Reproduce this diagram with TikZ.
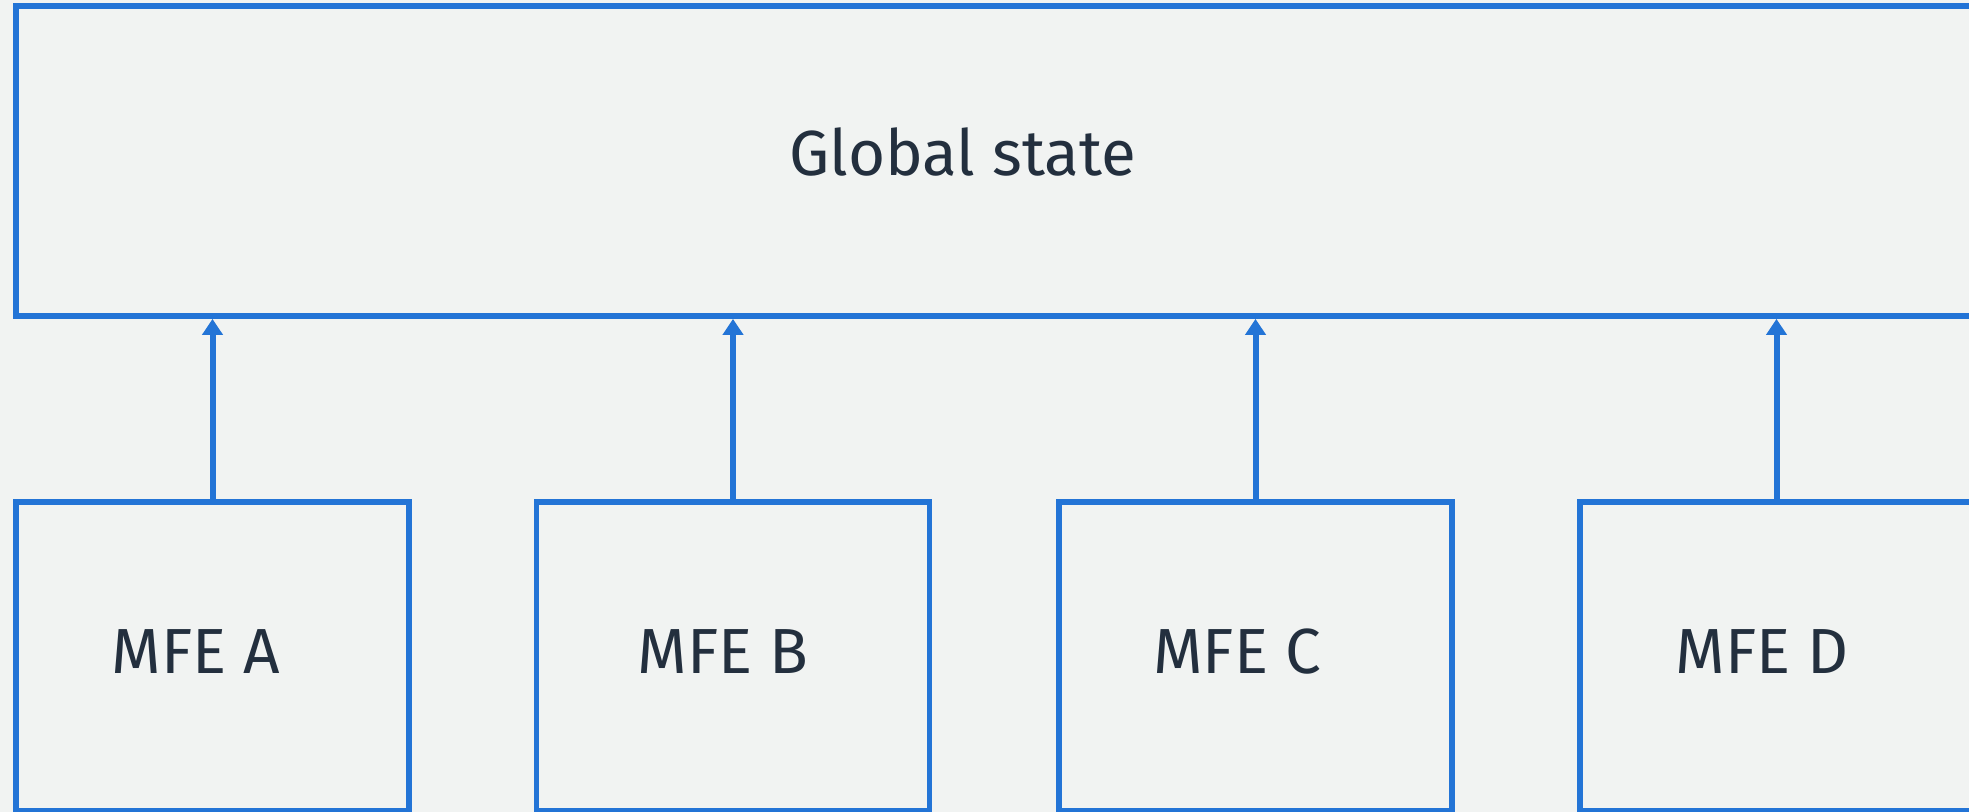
\documentclass[tikz,border=0pt]{standalone}
\usepackage{fontspec}
\setmainfont{Fira Sans}
\usetikzlibrary{arrows.meta}
\definecolor{bgc}{HTML}{F1F3F2}
\definecolor{bluec}{HTML}{2374D6}
\definecolor{inkc}{HTML}{232F3E}
\tikzset{
  box/.style={draw=bluec, line width=2.3pt, rectangle, inner sep=0pt},
  lbl/.style={text=inkc, font=\fontsize{25.5pt}{30pt}\selectfont, anchor=base, inner sep=0pt},
  arr/.style={draw=bluec, line width=2.4pt, -{Triangle[width=8pt,length=6.4pt]}}
}
\begin{document}
\begin{tikzpicture}[x=0.4pt,y=-0.4pt]
\useasboundingbox (0,0) rectangle (1969,812);
\fill[bgc] (0,0) rectangle (1969,812);
\clip (0,0) rectangle (1969,812);
\node[box, minimum width=1984*0.4pt, minimum height=310*0.4pt] (g) at (1008,161) {};
\node[lbl] (gt) at (963,176) {Global state};
\foreach \n/\cx/\tx/\L in {a/212.5/196/A, b/733/723/B, c/1255.5/1237/C, d/1776.5/1762/D}{
  \node[box, minimum width=393*0.4pt, minimum height=309*0.4pt] (\n) at (\cx,656.5) {};
  \node[lbl] (\n t) at (\tx,673) {MFE \L};
  \draw[arr] (\n.north) -- (\n.north |- g.south);
}
\end{tikzpicture}
\end{document}
